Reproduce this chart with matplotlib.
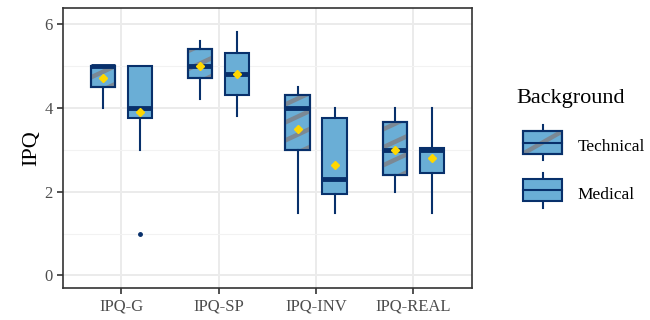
import matplotlib
matplotlib.use('Agg')
from matplotlib import pyplot as plt
from matplotlib.legend_handler import HandlerBase
from matplotlib.patches import Rectangle, PathPatch
from matplotlib.lines import Line2D
from matplotlib.collections import LineCollection
import numpy as np

plt.rcParams['font.family'] = ['Liberation Serif', 'DejaVu Serif']

# data
subscales = ['IPQ-G', 'IPQ-SP', 'IPQ-INV', 'IPQ-REAL']
groups = ['Technical', 'Medical']
# per group: whislo, q1, med, q3, whishi, mean
tech_whislo = [4.0, 4.2, 1.5, 2.0]
tech_q1 = [4.5, 4.7, 3.0, 2.4]
tech_med = [5.0, 5.0, 4.0, 3.0]
tech_q3 = [5.0, 5.4, 4.3, 3.65]
tech_whishi = [5.0, 5.6, 4.5, 4.0]
tech_mean = [4.7, 5.0, 3.5, 3.0]

med_whislo = [3.0, 3.8, 1.5, 1.5]
med_q1 = [3.75, 4.3, 1.95, 2.45]
med_med = [4.0, 4.8, 2.3, 3.0]
med_q3 = [5.0, 5.3, 3.75, 3.05]
med_whishi = [5.0, 5.8, 4.0, 4.0]
med_mean = [3.9, 4.8, 2.63, 2.8]
med_fliers = [[1.0], [], [], []]

fill = '#6aaed6'
edge = '#08306b'
stripe = '#7b8894'


def make_stats(lo, q1, med, q3, hi, mean, fliers=None):
    out = []
    for i in range(len(lo)):
        out.append(dict(whislo=lo[i], q1=q1[i], med=med[i], q3=q3[i], whishi=hi[i],
                        mean=mean[i], fliers=fliers[i] if fliers else []))
    return out


f, ax = plt.subplots(figsize=(6.5, 3.2), dpi=100)
f.subplots_adjust(left=0.097, right=0.726, top=0.975, bottom=0.1)

pos = list(range(1, len(subscales) + 1))
off = 0.19
common = dict(widths=0.25, patch_artist=True, showmeans=True, showcaps=False,
              whiskerprops=dict(color=edge, lw=1.5),
              medianprops=dict(color=edge, lw=3.5, solid_capstyle='butt'),
              meanprops=dict(marker='D', markerfacecolor='#ffd700', markeredgecolor='#ffd700', markersize=4),
              flierprops=dict(marker='o', markerfacecolor=edge, markeredgecolor=edge, markersize=2.5),
              boxprops=dict(facecolor=fill, edgecolor=edge, lw=1.5),
              zorder=3)

bt = ax.bxp(make_stats(tech_whislo, tech_q1, tech_med, tech_q3, tech_whishi, tech_mean),
            positions=[p - off for p in pos], **common)
bm = ax.bxp(make_stats(med_whislo, med_q1, med_med, med_q3, med_whishi, med_mean, med_fliers),
            positions=[p + off for p in pos], **common)

ax.set_xlim(0.4, 4.6)
ax.set_ylim(-0.3, 6.38)

# diagonal stripes on the technical boxes (~25 deg, ~18 px apart)
p0 = ax.transData.transform((0, 0))
p1 = ax.transData.transform((1, 1))
px_x, px_y = p1 - p0
k = np.tan(np.radians(25)) * px_x / px_y
step = 18 / px_y
for i, box in enumerate(bt['boxes']):
    xc = pos[i] - off
    segs = []
    for y0 in np.arange(tech_q1[i] - 0.5, tech_q3[i] + 0.5, step):
        segs.append([(xc - 0.2, y0 - 0.2 * k), (xc + 0.2, y0 + 0.2 * k)])
    lc = LineCollection(segs, colors=stripe, linewidths=3.2, zorder=3.05)
    ax.add_collection(lc)
    lc.set_clip_path(box)
    ax.add_patch(PathPatch(box.get_path(), facecolor='none', edgecolor=edge, lw=1.5, zorder=3.1))

for b in (bt, bm):
    for m in b['medians']:
        m.set_zorder(3.3)
    for m in b['means']:
        m.set_zorder(3.4)

ax.set_xticks(pos)
ax.set_xticklabels(subscales)
ax.set_yticks([0, 2, 4, 6])
ax.set_yticks([1, 3, 5], minor=True)
ax.tick_params(axis='both', which='major', colors='#333333', labelcolor='#4d4d4d',
               labelsize=12, length=4, width=1.2)
ax.tick_params(axis='y', which='minor', length=0)
ax.grid(True, which='major', color='#ebebeb', lw=1.4, zorder=0)
ax.grid(True, which='minor', axis='y', color='#f2f2f2', lw=0.8, zorder=0)
ax.set_axisbelow(True)
for s in ax.spines.values():
    s.set_color('#333333')
    s.set_linewidth(1.2)
ax.set_ylabel('IPQ', fontsize=16, labelpad=2)


class BoxHandler(HandlerBase):
    def __init__(self, striped=False):
        super().__init__()
        self.striped = striped

    def create_artists(self, legend, orig, xd, yd, w, h, fs, trans):
        bx, bw = xd + w * 0.13, w * 0.8
        by, bh = yd - h * 0.25, h * 1.5
        r = Rectangle((bx, by), bw, bh, facecolor=fill, edgecolor=edge, lw=1.5, transform=trans)
        cx = bx + bw / 2
        m = Line2D([bx, bx + bw], [by + bh / 2] * 2, color=edge, lw=1.5, transform=trans)
        w1 = Line2D([cx, cx], [by + bh, by + bh + h * 0.45], color=edge, lw=1.5, transform=trans)
        w2 = Line2D([cx, cx], [by, by - h * 0.45], color=edge, lw=1.5, transform=trans)
        arts = [w1, w2, r]
        if self.striped:
            s = Line2D([bx, bx + bw], [by, by + bh], color=stripe, lw=3.2, transform=trans)
            s.set_clip_path(r)
            arts.append(s)
            arts.append(Rectangle((bx, by), bw, bh, facecolor='none', edgecolor=edge, lw=1.5,
                                  transform=trans))
        arts.append(m)
        return arts


h1 = Rectangle((0, 0), 1, 1)
h2 = Rectangle((0, 0), 1, 1)
leg = f.legend([h1, h2], groups, title='Background', loc='upper left',
               bbox_to_anchor=(0.771, 0.772), frameon=False, fontsize=12.5,
               title_fontsize=16, handlelength=2.8, handleheight=0.93,
               labelspacing=1.75, handletextpad=0.7,
               handler_map={h1: BoxHandler(True), h2: BoxHandler()})
leg._legend_box.align = 'left'

plt.savefig('out.png', dpi=100)
